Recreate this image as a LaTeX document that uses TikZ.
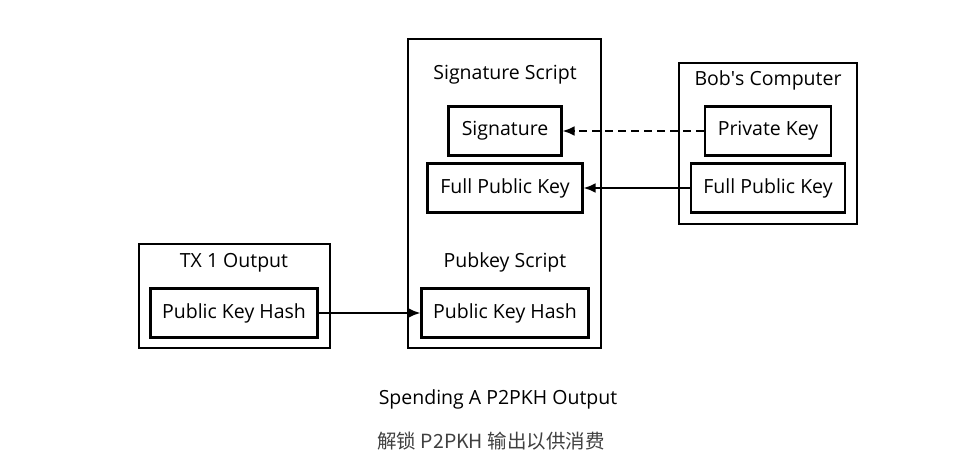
\documentclass[tikz,border=0pt]{standalone}
\usepackage{fontspec}
\setmainfont{Open Sans}
\newfontfamily\cjk{Noto Sans CJK SC}
\usepackage{xcolor}
\usetikzlibrary{arrows.meta,positioning}

\begin{document}
\begin{tikzpicture}[
				x=1pt, y=-1pt,
				font=\fontsize{19.5pt}{23pt}\selectfont,
				>={Latex[length=12pt,width=10pt]},
				field/.style={
					rectangle, draw=black, line width=2.2pt,
					minimum height=49pt, inner xsep=11pt
				},
				group/.style={
					rectangle, draw=black, line width=2.2pt
				},
				title/.style={inner sep=0pt, anchor=base},
				arr/.style={->, line width=2.2pt},
				darr/.style={->, line width=2.2pt, dash pattern=on 8pt off 5pt},
				caption/.style={inner sep=0pt, anchor=base}
				]
				\useasboundingbox (0,0) rectangle (970,473);
				
				%% ─── GROUP FRAMES ───────────────────────────────────────────────────────
				\node[group, minimum width=193pt, minimum height=309pt] (sigscript) at (504.5,193.5) {};
				\node[group, minimum width=178pt, minimum height=161pt] (bob) at (768,143.5) {};
				\node[group, minimum width=191pt, minimum height=104pt] (tx) at (234.5,296) {};
				
				%% ─── SIGNATURE / PUBKEY SCRIPT ──────────────────────────────────────────
				\node[title] (sigtitle) at (505,80) {Signature Script};
				\node[field, minimum width=113pt] (sig) at (505,131) {Signature};
				\node[field, minimum width=155pt] (fullpk) at (505,188) {Full Public Key};
				\node[title] (pktitle) at (505,268) {Pubkey Script};
				\node[field, minimum width=167pt] (pkh) at (505,313) {Public Key Hash};
				
				%% ─── BOB'S COMPUTER ─────────────────────────────────────────────────────
				\node[title] (bobtitle) at (768,86) {Bob\textquotesingle s Computer};
				\node[field, minimum width=126pt] (privkey) at (768,131) {Private Key};
				\node[field, minimum width=154pt] (bobpk) at (768,188) {Full Public Key};
				
				%% ─── TX 1 OUTPUT ────────────────────────────────────────────────────────
				\node[title] (txtitle) at (234,268) {TX 1 Output};
				\node[field, minimum width=167pt] (txpkh) at (234,313) {Public Key Hash};
				
				%% ─── CONNECTORS ─────────────────────────────────────────────────────────
				\draw[darr] (privkey) -- (sig);
				\draw[arr] (bobpk) -- (fullpk);
				\draw[arr] (txpkh) -- (pkh);
				
				%% ─── CAPTIONS ───────────────────────────────────────────────────────────
				\node[caption] (cap) at (498,404) {Spending A P2PKH Output};
				\node[caption, text=black!75] (capzh) at (491,448) {\cjk 解锁 P2PKH 输出以供消费};
				
			\end{tikzpicture}
\end{document}
